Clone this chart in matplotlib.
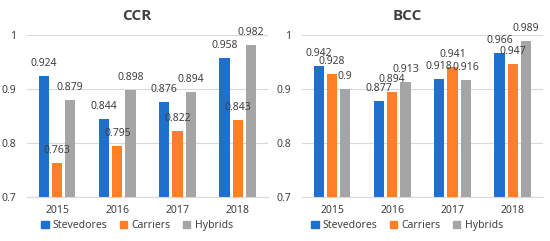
import matplotlib
matplotlib.use("Agg")
import matplotlib.pyplot as plt
import numpy as np
from matplotlib.patches import Patch

plt.rcParams['font.family'] = ['Noto Sans', 'DejaVu Sans']

years = ['2015', '2016', '2017', '2018']
series = ['Stevedores', 'Carriers', 'Hybrids']
ccr_stevedores = [0.924, 0.844, 0.876, 0.958]
ccr_carriers = [0.763, 0.795, 0.822, 0.843]
ccr_hybrids = [0.879, 0.898, 0.894, 0.982]
bcc_stevedores = [0.942, 0.877, 0.918, 0.966]
bcc_carriers = [0.928, 0.894, 0.941, 0.947]
bcc_hybrids = [0.9, 0.913, 0.916, 0.989]
ccr_labels = ['0.924', '0.844', '0.876', '0.958'], ['0.763', '0.795', '0.822', '0.843'], ['0.879', '0.898', '0.894', '0.982']
bcc_labels = ['0.942', '0.877', '0.918', '0.966'], ['0.928', '0.894', '0.941', '0.947'], ['0.9', '0.913', '0.916', '0.989']
yticks = [0.7, 0.8, 0.9, 1.0]
ytick_labels = ['0.7', '0.8', '0.9', '1']

colors = ['#1F6FCC', '#FF7F27', '#A5A5A5']
txt = '#404040'

fig = plt.figure(figsize=(5.5, 2.41), dpi=100)
axes_pos = [[0.049, 0.183, 0.438, 0.672], [0.549, 0.183, 0.438, 0.672]]
titles = ['CCR', 'BCC']
title_x = [137 / 550, 407 / 550]
data = [(ccr_stevedores, ccr_carriers, ccr_hybrids), (bcc_stevedores, bcc_carriers, bcc_hybrids)]
labels = [ccr_labels, bcc_labels]

x = np.arange(len(years))
bw = 0.17
step = 0.22
for k in range(2):
    ax = fig.add_axes(axes_pos[k])
    for i, vals in enumerate(data[k]):
        pos = x + (i - 1) * step
        ax.bar(pos, np.array(vals) - 0.7, bw, bottom=0.7, color=colors[i], zorder=2 + i)
        for p, v, l in zip(pos, vals, labels[k][i]):
            ax.annotate(l, (p, v), xytext=(0, 5), textcoords='offset points',
                        ha='center', va='bottom', fontsize=7.5, color=txt,
                        annotation_clip=False, zorder=10)
    ax.set_ylim(0.7, 1.0)
    ax.set_xlim(-0.5, 3.5)
    ax.set_yticks(yticks)
    ax.set_yticklabels(ytick_labels)
    ax.set_xticks(x)
    ax.set_xticklabels(years)
    ax.grid(axis='y', color='#D9D9D9', linewidth=0.8, zorder=0)
    ax.set_axisbelow(True)
    for s in ['top', 'right', 'left']:
        ax.spines[s].set_visible(False)
    ax.spines['bottom'].set_color('#D9D9D9')
    ax.tick_params(axis='both', length=0, labelsize=7.5, colors=txt)
    ax.tick_params(axis='x', pad=6)
    ax.tick_params(axis='y', pad=8)
    fig.text(title_x[k], 0.935, titles[k], ha='center', va='center', fontsize=11,
             fontweight='bold', color=txt, family=['Open Sans', 'DejaVu Sans'])
    handles = [Patch(color=c) for c in colors]
    fig.legend(handles, series, loc='center', bbox_to_anchor=(title_x[k], 0.065),
               ncol=3, frameon=False, fontsize=7.5, handlelength=0.7, handleheight=0.7,
               handletextpad=0.4, columnspacing=1.2, labelcolor=txt, borderaxespad=0)

fig.savefig('out.png', dpi=100)
